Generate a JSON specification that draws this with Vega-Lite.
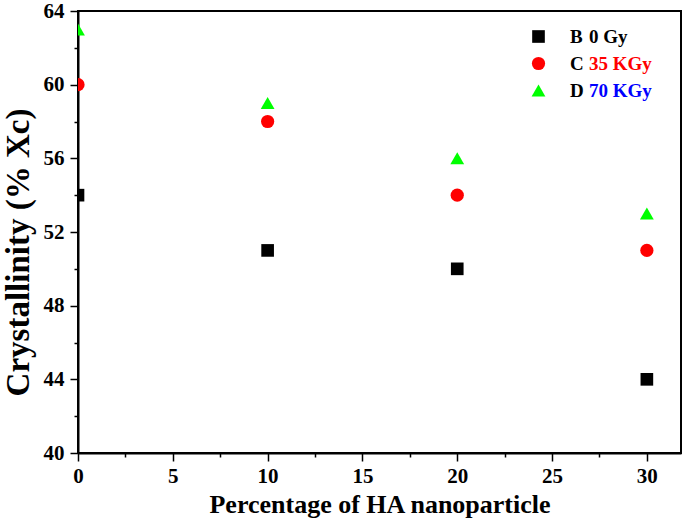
{
  "$schema": "https://vega.github.io/schema/vega-lite/v6.json",
  "width": 603,
  "height": 442,
  "autosize": "none",
  "padding": {"left": 78, "top": 11, "right": 4, "bottom": 69},
  "background": "white",
  "config": {
    "view": {"stroke": "black", "strokeWidth": 2},
    "font": "Liberation Serif",
    "axis": {
      "domainColor": "black", "domainWidth": 2,
      "tickColor": "black", "tickWidth": 1.5,
      "labelFont": "Liberation Serif", "labelFontWeight": "bold", "labelColor": "black", "labelFontSize": 21,
      "titleFont": "Liberation Serif", "titleFontWeight": "bold", "titleColor": "black",
      "grid": false
    },
    "legend": {
      "labelFont": "Liberation Serif", "labelFontWeight": "bold", "labelFontSize": 19, "labelColor": "black"
    }
  },
  "data": {"values": [
    {"pct": 0, "value": 54, "series": "B", "dose": "0 Gy"},
    {"pct": 10, "value": 51, "series": "B", "dose": "0 Gy"},
    {"pct": 20, "value": 50, "series": "B", "dose": "0 Gy"},
    {"pct": 30, "value": 44, "series": "B", "dose": "0 Gy"},
    {"pct": 0, "value": 60, "series": "C", "dose": "35 KGy"},
    {"pct": 10, "value": 58, "series": "C", "dose": "35 KGy"},
    {"pct": 20, "value": 54, "series": "C", "dose": "35 KGy"},
    {"pct": 30, "value": 51, "series": "C", "dose": "35 KGy"},
    {"pct": 0, "value": 63, "series": "D", "dose": "70 KGy"},
    {"pct": 10, "value": 59, "series": "D", "dose": "70 KGy"},
    {"pct": 20, "value": 56, "series": "D", "dose": "70 KGy"},
    {"pct": 30, "value": 53, "series": "D", "dose": "70 KGy"}
  ]},
  "mark": {"type": "point", "filled": true, "clip": true, "strokeWidth": 0},
  "encoding": {
    "x": {
      "field": "pct", "type": "quantitative",
      "scale": {"domain": [0, 31.8], "nice": false, "zero": false},
      "axis": {
        "title": "Percentage of HA nanoparticle",
        "titleFontSize": 26, "titlePadding": 5,
        "values": [0, 2.5, 5, 7.5, 10, 12.5, 15, 17.5, 20, 22.5, 25, 27.5, 30],
        "labelExpr": "datum.value % 5 === 0 ? datum.label : ''",
        "tickSize": {"condition": {"test": "datum.value % 5 === 0", "value": 8}, "value": 4},
        "labelPadding": 4,
        "labelFlush": false, "labelOverlap": false
      }
    },
    "y": {
      "field": "value", "type": "quantitative",
      "scale": {"domain": [40, 64], "nice": false, "zero": false},
      "axis": {
        "title": "Crystallinity (% Xc)",
        "titleFontSize": 33, "titlePadding": 8, "titleY": 241,
        "values": [40, 42, 44, 46, 48, 50, 52, 54, 56, 58, 60, 62, 64],
        "labelExpr": "datum.value % 4 === 0 ? datum.label : ''",
        "tickSize": {"condition": {"test": "datum.value % 4 === 0", "value": 8}, "value": 4},
        "labelPadding": 6,
        "labelFlush": false, "labelOverlap": false
      }
    },
    "color": {
      "field": "series", "type": "nominal",
      "scale": {"domain": ["B", "C", "D"], "range": ["#000000", "#ff0000", "#00ff00"]},
      "legend": {
        "orient": "none", "legendX": 451, "legendY": 16, "title": null,
        "symbolSize": 170, "labelOffset": 22, "rowPadding": 7, "padding": 0,
        "symbolStrokeWidth": 0, "symbolOpacity": 1,
        "encode": {"symbols": {"update": {"opacity": {"value": 1}, "fillOpacity": {"value": 1}}}}
      }
    },
    "shape": {
      "field": "series", "type": "nominal",
      "scale": {"domain": ["B", "C", "D"], "range": ["square", "circle", "triangle-up"]}
    },
    "size": {
      "field": "series", "type": "nominal",
      "scale": {"domain": ["B", "C", "D"], "range": [160, 190, 230]},
      "legend": null
    },
    "opacity": {
      "field": "dose", "type": "ordinal",
      "scale": {"domain": ["0 Gy", "35 KGy", "70 KGy"], "range": [1, 1]},
      "legend": {
        "orient": "none", "legendX": 490, "legendY": 16, "title": null,
        "symbolSize": 1, "labelOffset": 2, "rowPadding": 7, "padding": 0,
        "symbolOpacity": 0, "symbolFillColor": "transparent", "symbolStrokeColor": "transparent",
        "encode": {
          "symbols": {"update": {"opacity": {"value": 0}, "fill": {"value": "transparent"}}},
          "labels": {"update": {"fill": {"signal": "datum.label === '35 KGy' ? '#ff0000' : datum.label === '70 KGy' ? '#0000ff' : '#000000'"}}}
        }
      }
    }
  }
}
